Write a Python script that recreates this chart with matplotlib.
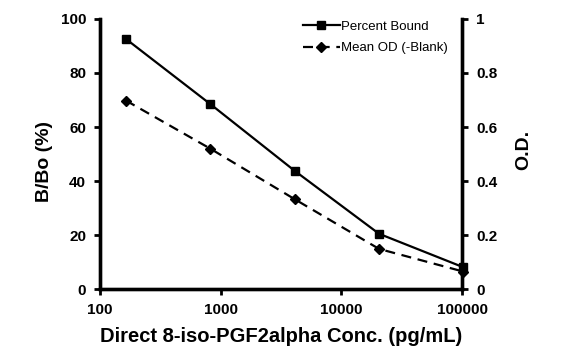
import matplotlib
matplotlib.use("Agg")
import matplotlib.pyplot as plt

plt.rcParams['font.family'] = ['Liberation Sans', 'DejaVu Sans']

conc = [163.84, 819.2, 4096, 20480, 102400]
percent_bound = [92.6, 68.5, 43.8, 20.5, 8.1]
mean_od = [0.698, 0.52, 0.333, 0.149, 0.065]

left_ticks = [0, 20, 40, 60, 80, 100]
right_ticks = [0, 0.2, 0.4, 0.6, 0.8, 1]
right_labels = ['0', '0.2', '0.4', '0.6', '0.8', '1']
x_ticks = [100, 1000, 10000, 100000]
x_labels = ['100', '1000', '10000', '100000']

fig = plt.figure(figsize=(5.65, 3.57), dpi=100)
ax = fig.add_axes([0.177, 0.190, 0.641, 0.757])
ax2 = ax.twinx()

l1, = ax.plot(conc, percent_bound, color='black', lw=1.6, marker='s', ms=6.3,
              label='Percent Bound', clip_on=False, zorder=3)
l2, = ax2.plot(conc, mean_od, color='black', lw=1.6, ls=(0, (4.5, 3)), marker='D', ms=5.2,
               label='Mean OD (-Blank)', clip_on=False, zorder=3)

ax.set_xscale('log')
ax.set_xlim(100, 100000)
ax.set_ylim(0, 100)
ax2.set_ylim(0, 1)
ax.set_xticks(x_ticks)
ax.set_xticklabels(x_labels)
ax.xaxis.set_minor_locator(matplotlib.ticker.NullLocator())
ax.set_yticks(left_ticks)
ax2.set_yticks(right_ticks)
ax2.set_yticklabels(right_labels)

for a in (ax, ax2):
    a.spines['top'].set_visible(False)
    for s in ('left', 'right', 'bottom'):
        a.spines[s].set_linewidth(2.4)
    a.tick_params(width=2, length=4, labelsize=11, direction='out')
    for lab in a.get_xticklabels() + a.get_yticklabels():
        lab.set_fontweight('bold')
ax.tick_params(axis='x', pad=6)
ax.tick_params(axis='y', pad=6)
ax2.tick_params(axis='y', pad=6)

ax.set_xlabel('Direct 8-iso-PGF2alpha Conc. (pg/mL)', fontsize=14.5, fontweight='bold', labelpad=7)
ax.set_ylabel('B/Bo (%)', fontsize=14, fontweight='bold', va='center')
ax2.set_ylabel('O.D.', fontsize=14, fontweight='bold', va='center')
ax.yaxis.set_label_coords(-0.152, 0.472)
ax2.yaxis.set_label_coords(1.169, 0.516)

ax2.legend(handles=[l1, l2], loc='upper left', bbox_to_anchor=(0.56, 0.993), frameon=False,
           fontsize=9.5, handlelength=2.8, handletextpad=0.1, labelspacing=0.68,
           borderaxespad=0, borderpad=0)

fig.savefig('out.png', dpi=100)
